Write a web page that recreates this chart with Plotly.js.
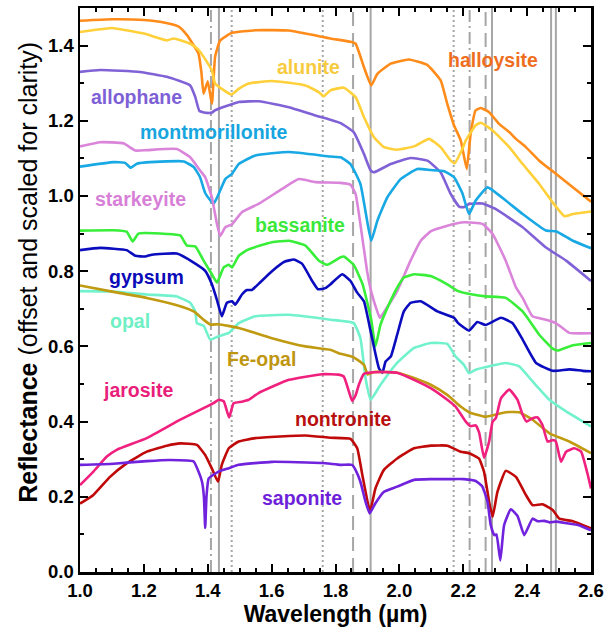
<!DOCTYPE html>
<html>
<head>
<meta charset="utf-8">
<script src="https://cdn.plot.ly/plotly-3.0.1.min.js"></script>
<style>html,body{margin:0;padding:0;background:#fff;}#chart{width:613px;height:628px;}</style>
</head>
<body>
<div id="chart"></div>
<script>
// ---------- data (wavelength in µm, reflectance offset) ----------
const halloysiteX = [1.0,1.1,1.2,1.27,1.31,1.335,1.36,1.371,1.38,1.387,1.4,1.413,1.423,1.439,1.476,1.55,1.654,1.784,1.847,1.863,1.889,1.912,1.931,1.973,2.03,2.088,2.129,2.15,2.171,2.192,2.211,2.223,2.239,2.255,2.281,2.312,2.344,2.365,2.396,2.438,2.49,2.543,2.6];
const halloysiteY = [1.466,1.47,1.468,1.46,1.45,1.428,1.395,1.379,1.33,1.272,1.305,1.245,1.37,1.414,1.434,1.441,1.44,1.419,1.41,1.405,1.343,1.294,1.325,1.352,1.363,1.348,1.308,1.245,1.188,1.148,1.072,1.165,1.228,1.234,1.223,1.192,1.17,1.152,1.13,1.094,1.059,1.023,0.985];

const aluniteX = [1.0,1.05,1.1,1.2,1.272,1.293,1.345,1.37,1.387,1.413,1.423,1.444,1.474,1.497,1.528,1.601,1.706,1.748,1.763,1.784,1.826,1.863,1.889,1.92,1.952,1.993,2.046,2.093,2.129,2.161,2.173,2.197,2.208,2.239,2.255,2.292,2.344,2.386,2.438,2.48,2.517,2.543,2.6];
const aluniteY = [1.436,1.442,1.447,1.432,1.414,1.419,1.405,1.39,1.37,1.334,1.299,1.285,1.27,1.285,1.299,1.306,1.294,1.276,1.265,1.281,1.288,1.263,1.21,1.157,1.13,1.123,1.132,1.152,1.13,1.094,1.087,1.125,1.148,1.188,1.195,1.174,1.13,1.085,1.032,0.983,0.946,0.952,0.959];

const allophaneX = [1.0,1.063,1.188,1.272,1.345,1.361,1.374,1.397,1.413,1.423,1.497,1.56,1.654,1.737,1.784,1.816,1.857,1.889,1.91,1.92,1.973,2.035,2.088,2.129,2.161,2.187,2.202,2.218,2.26,2.302,2.386,2.459,2.522,2.6];
const allophaneY = [1.33,1.335,1.33,1.317,1.294,1.263,1.226,1.221,1.222,1.228,1.25,1.252,1.236,1.214,1.203,1.194,1.17,1.112,1.068,1.063,1.085,1.101,1.094,1.063,1.005,0.972,0.97,0.979,0.98,0.965,0.917,0.863,0.828,0.774];

const montmorilloniteX = [1.0,1.105,1.141,1.159,1.178,1.272,1.325,1.356,1.376,1.392,1.418,1.434,1.455,1.476,1.497,1.549,1.654,1.784,1.816,1.847,1.878,1.899,1.912,1.931,1.962,2.004,2.056,2.098,2.14,2.171,2.197,2.218,2.239,2.276,2.333,2.386,2.459,2.49,2.543,2.6];
const montmorilloniteY = [1.078,1.09,1.088,1.075,1.086,1.092,1.092,1.077,1.05,1.008,0.979,1.005,1.045,1.059,1.085,1.108,1.117,1.105,1.103,1.085,1.032,0.934,0.881,0.934,0.996,1.045,1.072,1.069,1.066,1.05,1.008,0.952,0.988,1.023,0.988,0.952,0.908,0.906,0.881,0.861];

const starkeyiteX = [1.0,1.063,1.136,1.173,1.209,1.303,1.345,1.376,1.392,1.413,1.429,1.439,1.455,1.476,1.507,1.559,1.633,1.685,1.737,1.816,1.847,1.863,1.878,1.899,1.912,1.928,1.939,1.957,1.993,2.035,2.067,2.098,2.15,2.203,2.26,2.292,2.333,2.365,2.386,2.417,2.459,2.49,2.532,2.6];
const starkeyiteY = [1.132,1.143,1.14,1.121,1.122,1.125,1.103,1.068,1.05,0.996,0.925,0.894,0.917,0.925,0.957,0.979,1.019,1.045,1.037,1.035,1.03,1.005,0.925,0.80,0.745,0.70,0.676,0.698,0.747,0.828,0.881,0.906,0.921,0.93,0.926,0.899,0.828,0.757,0.729,0.68,0.671,0.662,0.636,0.635];

const bassaniteX = [1.0,1.105,1.146,1.165,1.183,1.272,1.314,1.335,1.361,1.387,1.413,1.429,1.45,1.466,1.476,1.497,1.528,1.601,1.654,1.706,1.748,1.774,1.816,1.826,1.857,1.885,1.912,1.925,1.941,1.967,1.993,2.014,2.046,2.098,2.15,2.184,2.229,2.27,2.333,2.386,2.438,2.48,2.496,2.543,2.6];
const bassaniteY = [0.908,0.909,0.905,0.879,0.9,0.899,0.895,0.868,0.866,0.828,0.792,0.77,0.81,0.817,0.81,0.841,0.858,0.877,0.881,0.868,0.828,0.817,0.837,0.839,0.817,0.765,0.67,0.60,0.658,0.711,0.756,0.783,0.792,0.787,0.765,0.747,0.738,0.733,0.729,0.693,0.631,0.594,0.589,0.603,0.609];

const gypsumX = [1.0,1.063,1.146,1.173,1.204,1.225,1.303,1.356,1.392,1.413,1.43,1.444,1.46,1.476,1.486,1.507,1.523,1.538,1.56,1.601,1.64,1.67,1.695,1.727,1.745,1.768,1.784,1.821,1.847,1.868,1.889,1.91,1.936,1.947,1.957,1.973,1.993,2.014,2.035,2.067,2.119,2.171,2.184,2.218,2.244,2.27,2.318,2.354,2.386,2.428,2.48,2.532,2.574,2.6];
const gypsumY = [0.856,0.862,0.856,0.841,0.839,0.844,0.847,0.823,0.801,0.765,0.72,0.68,0.716,0.72,0.711,0.738,0.75,0.75,0.767,0.80,0.825,0.831,0.82,0.774,0.752,0.755,0.765,0.792,0.774,0.743,0.72,0.64,0.542,0.53,0.56,0.573,0.631,0.693,0.716,0.72,0.693,0.676,0.662,0.642,0.665,0.657,0.676,0.662,0.618,0.556,0.535,0.539,0.535,0.534];

const opalX = [1.0,1.105,1.209,1.303,1.345,1.361,1.366,1.387,1.408,1.434,1.466,1.497,1.549,1.654,1.784,1.857,1.878,1.894,1.91,1.941,1.993,2.046,2.098,2.15,2.176,2.202,2.218,2.239,2.281,2.333,2.375,2.417,2.47,2.522,2.6];
const opalY = [0.747,0.746,0.738,0.733,0.716,0.693,0.662,0.655,0.618,0.627,0.636,0.662,0.68,0.684,0.671,0.662,0.622,0.516,0.458,0.498,0.556,0.596,0.609,0.607,0.573,0.551,0.529,0.538,0.547,0.556,0.547,0.507,0.458,0.427,0.387];

const feOpalX = [1.0,1.105,1.209,1.314,1.356,1.387,1.408,1.434,1.497,1.601,1.706,1.784,1.81,1.857,1.889,1.901,1.92,1.993,2.046,2.098,2.15,2.192,2.218,2.27,2.333,2.375,2.417,2.47,2.532,2.6];
const feOpalY = [0.762,0.745,0.729,0.707,0.693,0.671,0.658,0.659,0.649,0.622,0.60,0.591,0.582,0.571,0.551,0.525,0.532,0.53,0.516,0.498,0.471,0.44,0.425,0.413,0.425,0.425,0.405,0.369,0.347,0.316];

const jarositeX = [1.0,1.042,1.084,1.115,1.209,1.314,1.418,1.434,1.45,1.467,1.481,1.507,1.528,1.559,1.654,1.758,1.81,1.826,1.842,1.852,1.863,1.874,1.889,1.941,1.993,2.046,2.098,2.15,2.176,2.208,2.223,2.239,2.25,2.265,2.281,2.292,2.302,2.318,2.344,2.37,2.386,2.398,2.417,2.433,2.448,2.464,2.48,2.49,2.506,2.522,2.548,2.569,2.59,2.6];
const jarositeY = [0.231,0.267,0.307,0.325,0.356,0.405,0.449,0.458,0.454,0.411,0.449,0.453,0.458,0.476,0.511,0.526,0.525,0.52,0.48,0.455,0.47,0.50,0.527,0.532,0.53,0.511,0.489,0.458,0.44,0.40,0.388,0.39,0.37,0.304,0.347,0.40,0.409,0.462,0.485,0.458,0.418,0.40,0.409,0.411,0.391,0.347,0.351,0.347,0.293,0.32,0.329,0.32,0.258,0.222];

const nontroniteX = [1.0,1.042,1.094,1.146,1.209,1.272,1.314,1.366,1.392,1.413,1.432,1.444,1.466,1.497,1.549,1.706,1.784,1.847,1.868,1.884,1.908,1.925,1.951,1.993,2.046,2.098,2.15,2.192,2.218,2.249,2.265,2.281,2.292,2.307,2.333,2.365,2.396,2.417,2.448,2.48,2.501,2.543,2.6];
const nontroniteY = [0.182,0.205,0.253,0.289,0.32,0.336,0.342,0.338,0.311,0.275,0.24,0.285,0.329,0.347,0.356,0.363,0.357,0.354,0.329,0.258,0.162,0.222,0.271,0.302,0.329,0.336,0.336,0.32,0.316,0.302,0.267,0.187,0.147,0.213,0.269,0.253,0.205,0.178,0.18,0.165,0.142,0.135,0.116];

const saponiteX = [1.0,1.105,1.209,1.282,1.356,1.371,1.382,1.388,1.392,1.396,1.403,1.434,1.466,1.497,1.601,1.758,1.816,1.852,1.863,1.878,1.894,1.907,1.925,1.951,1.993,2.046,2.098,2.15,2.202,2.239,2.26,2.276,2.286,2.297,2.304,2.316,2.328,2.349,2.37,2.391,2.417,2.433,2.454,2.47,2.49,2.522,2.564,2.6];
const saponiteY = [0.285,0.288,0.295,0.298,0.294,0.267,0.24,0.20,0.117,0.20,0.249,0.267,0.276,0.285,0.293,0.29,0.285,0.285,0.271,0.24,0.187,0.156,0.183,0.213,0.227,0.245,0.247,0.247,0.247,0.242,0.227,0.187,0.125,0.098,0.10,0.031,0.125,0.167,0.149,0.098,0.142,0.135,0.136,0.132,0.134,0.13,0.124,0.111];

// reference band lines (µm)
const solidLines = [1.435, 1.91, 2.29, 2.475, 2.49];
const dashLines = [1.855, 2.27];
const dashDotLines = [1.41, 2.22];
const dotLines = [1.475, 1.76, 2.17];

// mineral names
const names = ["halloysite","alunite","allophane","montmorillonite","starkeyite","bassanite","gypsum","opal","Fe-opal","jarosite","nontronite","saponite"];

// ---------- styling ----------
const seriesX = [halloysiteX, aluniteX, allophaneX, montmorilloniteX, starkeyiteX, bassaniteX, gypsumX, opalX, feOpalX, jarositeX, nontroniteX, saponiteX];
const seriesY = [halloysiteY, aluniteY, allophaneY, montmorilloniteY, starkeyiteY, bassaniteY, gypsumY, opalY, feOpalY, jarositeY, nontroniteY, saponiteY];
const lineColors = ["#FF8C1A","#FFD03A","#8062D6","#18A8E4","#DA85DA","#38EE38","#0C0CBF","#72F2CC","#C09A10","#F0207F","#C00A0A","#7022DD"];
const labelColors = ["#EE6E1E","#F7CB3E","#7E60D6","#17A5E0","#D87FD7","#3AE83A","#0A0AB8","#6EEFC4","#BF9610","#E91E7A","#B80F0F","#6E1FD9"];
const labelPosX = [2.293, 1.715, 1.178, 1.418, 1.188, 1.69, 1.207, 1.157, 1.568, 1.182, 1.825, 1.696];
const labelPosY = [1.362, 1.343, 1.262, 1.171, 0.991, 0.924, 0.785, 0.667, 0.566, 0.485, 0.406, 0.196];

const traces = names.map((n, i) => ({
  x: seriesX[i], y: seriesY[i], name: n, type: 'scatter', mode: 'lines',
  line: {color: lineColors[i], width: 2.6, shape: 'spline', smoothing: 0.4},
  hoverinfo: 'skip'
}));

const grey = '#A6A6A6';
const shapes = [];
function addLines(arr, dash, w) {
  arr.forEach(v => shapes.push({type:'line', xref:'x', yref:'paper', x0:v, x1:v, y0:0, y1:1,
    layer:'below', line:{color:grey, width:w, dash:dash}}));
}
addLines(solidLines, 'solid', 2);
addLines(dashLines, '14px,7px', 2);
addLines(dashDotLines, '12px,4px,2px,4px', 2);
addLines(dotLines, '2px,3px', 2);

const FONT = 'Liberation Sans, Arial, sans-serif';
const annotations = names.map((n, i) => ({
  x: labelPosX[i], y: labelPosY[i], xref:'x', yref:'y', text: n, showarrow:false,
  xanchor:'center', yanchor:'middle',
  font:{family:FONT, size:19.5, weight:'bold', color: labelColors[i]}
}));
// y-axis title drawn as a rotated annotation so that it can sit where the reference has it
annotations.push({
  xref:'paper', yref:'paper', x:-0.102, y:0.532, textangle:-90, showarrow:false,
  xanchor:'center', yanchor:'middle',
  text:'<b>Reflectance</b> (offset and scaled for clarity)',
  font:{family:FONT, size:25, color:'#000'}
});

const tickFont = {family:FONT, size:18.5, weight:'bold', color:'#000'};

const layout = {
  width: 613, height: 628,
  margin: {l:80, r:22, t:8, b:56},
  paper_bgcolor:'#fff', plot_bgcolor:'#fff',
  showlegend: false,
  xaxis: {
    range:[1.0, 2.6], tick0:1.0, dtick:0.2, tickformat:'.1f',
    ticks:'inside', ticklen:8, tickwidth:2, tickcolor:'#000',
    minor:{ticks:'inside', dtick:0.05, ticklen:4, tickwidth:2, tickcolor:'#000'},
    showline:true, linewidth:2.5, linecolor:'#000', mirror:'ticks',
    showgrid:false, zeroline:false, tickfont: tickFont,
    title:{text:'<b>Wavelength (µm)</b>', font:{family:FONT, size:23, color:'#000'}, standoff:4}
  },
  yaxis: {
    range:[0, 1.5], tick0:0, dtick:0.2, tickformat:'.1f',
    ticks:'inside', ticklen:8, tickwidth:2, tickcolor:'#000',
    minor:{ticks:'inside', dtick:0.1, ticklen:4, tickwidth:2, tickcolor:'#000'},
    showline:true, linewidth:2.5, linecolor:'#000', mirror:'ticks',
    showgrid:false, zeroline:false, tickfont: tickFont
  },
  shapes: shapes,
  annotations: annotations
};

Plotly.newPlot('chart', traces, layout, {staticPlot:true, displayModeBar:false});
</script>
</body>
</html>
